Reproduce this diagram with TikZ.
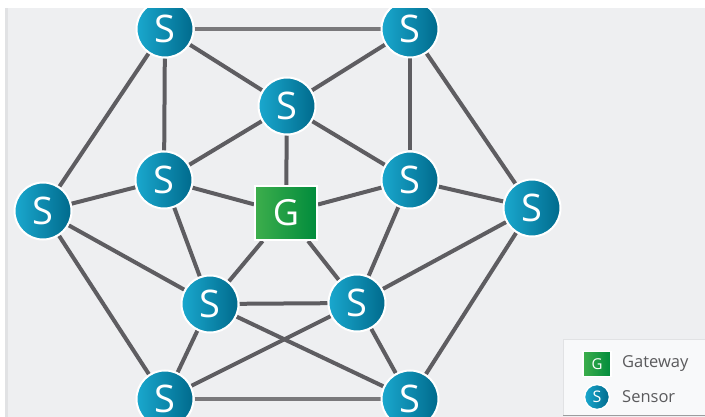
\documentclass[tikz,border=0pt]{standalone}
\usepackage{fontspec}
\setsansfont{Open Sans}

\definecolor{panel}{HTML}{EEEFF1}
\definecolor{panelstripe}{HTML}{E1E2E4}
\definecolor{linkc}{HTML}{5E5D61}
\definecolor{linklight}{HTML}{79787B}
\definecolor{sensL}{HTML}{1AA8CE}
\definecolor{sensR}{HTML}{006A8C}
\definecolor{gateL}{HTML}{3DAE4C}
\definecolor{gateR}{HTML}{008B3C}
\definecolor{legendbg}{HTML}{F8F9FA}
\definecolor{legendrule}{HTML}{9C9C9E}
\definecolor{legendtext}{HTML}{5A5A5C}

\pgfdeclarelayer{links}
\pgfsetlayers{links,main}

\tikzset{
  sensor/.style={circle, minimum size=57pt, inner sep=0pt,
    left color=sensL, right color=sensR, draw=white, line width=2pt,
    text=white, font=\sffamily\fontsize{38}{38}\selectfont},
  gateway/.style={rectangle, minimum width=62pt, minimum height=54pt, inner sep=0pt,
    left color=gateL, right color=gateR, draw=white, line width=2pt,
    text=white, font=\sffamily\fontsize{36}{36}\selectfont},
  linkline/.style={draw=linkc, line width=4pt},
  lightlink/.style={draw=linklight, line width=4.5pt},
  legendlabel/.style={anchor=west, inner sep=0pt, text=legendtext,
    font=\sffamily\fontsize{16.5}{16.5}\selectfont},
}

\begin{document}
\begin{tikzpicture}[x=1pt, y=-1pt]
  \useasboundingbox (0,0) rectangle (705,417);
  % canvas
  \begin{pgfonlayer}{links}
    \fill[white] (0,0) rectangle (705,417);
    \fill[panel] (5,8) rectangle (705,417);
    \fill[panelstripe] (5,8) rectangle (8,417);
  \end{pgfonlayer}

  % sensors and gateway
  \node[sensor] (t1) at (165,29) {S};
  \node[sensor] (t2) at (410,29) {S};
  \node[sensor] (m)  at (287,106) {S};
  \node[sensor] (l1) at (164,180) {S};
  \node[sensor] (r1) at (410,180) {S};
  \node[gateway] (g) at (286,213) {G};
  \node[sensor] (ol) at (43,211) {S};
  \node[sensor] (or) at (532,208) {S};
  \node[sensor] (bl) at (210,304) {S};
  \node[sensor] (br) at (357,303) {S};
  \node[sensor] (b1) at (165,399) {S};
  \node[sensor] (b2) at (410,399) {S};

  % mesh links
  \begin{pgfonlayer}{links}
    \draw[lightlink] (t1) -- (t2);
    \draw[lightlink] (b1) -- (b2);
    \draw[linkline] (t1) -- (m);
    \draw[linkline] (t1) -- (l1);
    \draw[linkline] (t1) -- (ol);
    \draw[linkline] (t2) -- (m);
    \draw[linkline] (t2) -- (r1);
    \draw[linkline] (t2) -- (or);
    \draw[linkline] (m) -- (l1);
    \draw[linkline] (m) -- (r1);
    \draw[linkline] (m) -- (g);
    \draw[linkline] (l1) -- (ol);
    \draw[linkline] (l1) -- (g);
    \draw[linkline] (l1) -- (bl);
    \draw[linkline] (r1) -- (g);
    \draw[linkline] (r1) -- (or);
    \draw[linkline] (r1) -- (br);
    \draw[linkline] (ol) -- (bl);
    \draw[linkline] (ol) -- (b1);
    \draw[linkline] (or) -- (br);
    \draw[linkline] (or) -- (b2);
    \draw[linkline] (g) -- (bl);
    \draw[linkline] (g) -- (br);
    \draw[linkline] (bl) -- (br);
    \draw[linkline] (bl) -- (b2);
    \draw[linkline] (br) -- (b1);
    \draw[linkline] (bl) -- (b1);
    \draw[linkline] (br) -- (b2);
  \end{pgfonlayer}

  % white margin above the panel
  \fill[white] (0,0) rectangle (705,8);

  % legend
  \fill[legendbg] (563,339) rectangle (705,415);
  \draw[panelstripe, line width=0.8pt] (563,415) -- (563,339) -- (705,339);
  \draw[legendrule, line width=1.5pt] (563,415.5) -- (705,415.5);
  \node[gateway, minimum width=28pt, minimum height=25pt, line width=1.5pt,
        font=\sffamily\fontsize{15}{15}\selectfont] (lg) at (597,364) {G};
  \node[sensor, minimum size=25pt, line width=1.5pt,
        font=\sffamily\fontsize{16}{16}\selectfont] (ls) at (597,397) {S};
  \node[legendlabel] (lgt) at (622,364) {Gateway};
  \node[legendlabel] (lst) at (622,397) {Sensor};
\end{tikzpicture}
\end{document}
